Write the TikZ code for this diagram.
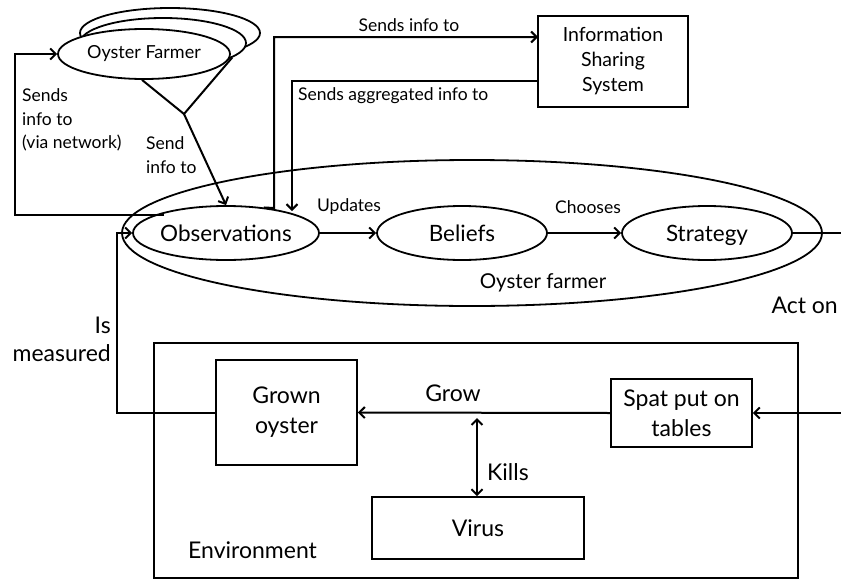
\documentclass[tikz,border=0pt]{standalone}
\usepackage{fontspec}
\setmainfont{Lato}
\usetikzlibrary{shapes.geometric,arrows.meta}
\begin{document}
\begin{tikzpicture}[x=1pt,y=-1pt,
  every node/.style={inner sep=0pt},
  ln/.style={line width=2pt},
  arr/.style={ln,-{Straight Barb[length=5.5pt,width=11pt,line width=2pt]}},
  ell/.style={ellipse,draw,line width=1.8pt,fill=white},
  box/.style={rectangle,draw,line width=1.8pt,fill=white,align=center},
  fbig/.style={font=\fontsize{22.5}{26}\selectfont,text height=17pt,text depth=0pt},
  fmid/.style={font=\fontsize{23}{30}\selectfont},
  flab/.style={font=\fontsize{17.5}{23.5}\selectfont}]
\useasboundingbox (0,0) rectangle (841,581);

% big oyster farmer ellipse
\node[ellipse,draw,line width=1.8pt,minimum width=700pt,minimum height=146pt] (farmer) at (472,233) {};
\node[font=\fontsize{20.5}{24}\selectfont] (farmerlab) at (543,283) {Oyster farmer};

% stacked oyster farmer ellipses
\node[ell,minimum width=180pt,minimum height=50pt] (of3) at (170,33) {};
\node[ell,minimum width=166pt,minimum height=50pt] (of2) at (163,43) {};
\node[ell,minimum width=172pt,minimum height=50pt,font=\fontsize{18}{22}\selectfont] (of1) at (144,54) {Oyster Farmer};

% inner ellipses
\node[ell,minimum width=172pt,minimum height=54pt,fbig] (obs) at (226,233) {Observations};
\node[ell,minimum width=170pt,minimum height=54pt,fbig] (bel) at (462,233) {Beliefs};
\node[ell,minimum width=170pt,minimum height=54pt,fbig] (str) at (707,233) {Strategy};

% information sharing system
\node[box,minimum width=150pt,minimum height=91pt,font=\fontsize{19.5}{25}\selectfont] (iss) at (613,61.5) {Information\\Sharing\\System};

% environment
\node[rectangle,draw,line width=1.8pt,minimum width=644pt,minimum height=235pt] (env) at (476,460.5) {};
\node[fmid,anchor=west] (envlab) at (188,550) {Environment};
\node[box,minimum width=141pt,minimum height=105pt,fmid] (grown) at (286.5,412.5) {Grown\\oyster};
\node[box,minimum width=141pt,minimum height=68pt,fmid] (spat) at (681.5,413) {Spat put on\\tables};
\node[box,minimum width=212pt,minimum height=62pt,fmid] (virus) at (478,528) {Virus};

% coordinates
\coordinate (apex) at (184,114);
\coordinate (netstart) at (164,215);
\coordinate (issin) at (538,37);
\coordinate (issout) at (538,81);
\coordinate (aggdown) at (292,211);
\coordinate (strout) at (841,233);
\coordinate (spatin) at (841,413);
\coordinate (killtop) at (477,418);

% oyster farmer to observations
\draw[ln] (of1.south) ++(-2,0) -- (apex) -- (of2.-12);
\draw[arr] (apex) -- (obs.north);

% sends info via network
\draw[arr] (netstart) -- (15,215) |- (of1.west);

% sends info to ISS
\draw[arr] (obs.34) -- (274,208) |- (issin);

% sends aggregated info
\draw[arr] (issout) -| (aggdown);

% main chain
\draw[arr] (obs.east) -- (bel.west);
\draw[arr] (bel.east) -- (str.west);
\draw[ln] (str.east) -- (strout);

% environment
\draw[arr] (spatin) -- (spat.east);
\draw[arr] (spat.west) -- (grown.east);
\draw[ln,{Straight Barb[length=5.5pt,width=11pt,line width=2pt]}-{Straight Barb[length=5.5pt,width=11pt,line width=2pt]}] (killtop) -- (killtop |- virus.north);
\draw[arr] (grown.west) -- (117,412.5) |- (obs.west);

% labels
\node[flab] (l1) at (409,25) {Sends info to};
\node[flab,anchor=west] (l2) at (298,96) {Sends aggregated info to};
\node[flab,anchor=west,align=left] (l3) at (22,120) {Sends\\info to\\(via network)};
\node[flab,anchor=west,align=left,font=\fontsize{17.5}{24}\selectfont] (l4) at (146,155) {Send\\info to};
\node[flab] (l5) at (349,207) {Updates};
\node[flab] (l6) at (588,207) {Chooses};
\node[fmid,anchor=east] (l7) at (838,305) {Act on};
\node[anchor=east,align=right,font=\fontsize{23}{28}\selectfont] (l8) at (111,339) {Is\\measured};
\node[fmid] (l9) at (453,393) {Grow};
\node[fmid,anchor=west] (l10) at (487,472) {Kills};
\end{tikzpicture}
\end{document}
